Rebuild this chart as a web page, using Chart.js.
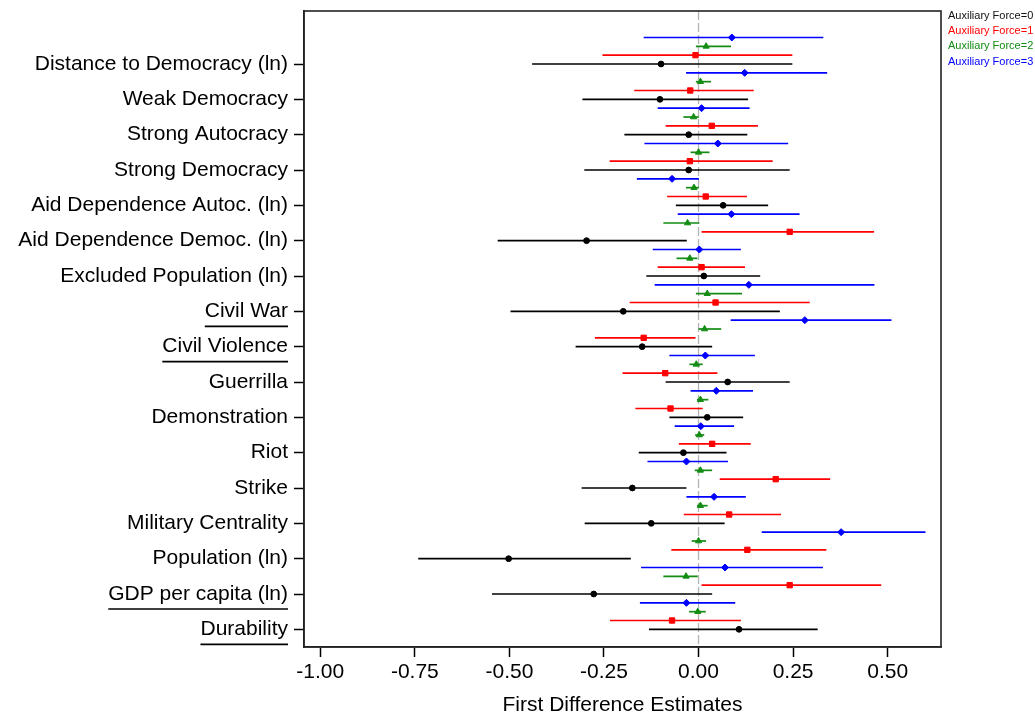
<!DOCTYPE html>
<html>
<head>
<meta charset="utf-8">
<script src="https://cdn.jsdelivr.net/npm/chart.js@4.4.1/dist/chart.umd.min.js"></script>
<style>
  html, body { margin: 0; padding: 0; background: #fff; }
  canvas { display: block; }
</style>
</head>
<body>
<canvas id="coefplot" width="1035" height="718"></canvas>
<script>
// categories, top to bottom
const categories = [
    "Distance to Democracy (ln)", "Weak Democracy", "Strong Autocracy", "Strong Democracy",
    "Aid Dependence Autoc. (ln)", "Aid Dependence Democ. (ln)", "Excluded Population (ln)",
    "Civil War", "Civil Violence", "Guerrilla", "Demonstration", "Riot", "Strike",
    "Military Centrality", "Population (ln)", "GDP per capita (ln)", "Durability"
];
const underlined = ["Civil War", "Civil Violence", "GDP per capita (ln)", "Durability"];

const seriesNames = ["Auxiliary Force=0", "Auxiliary Force=1", "Auxiliary Force=2", "Auxiliary Force=3"];

// Auxiliary Force=0
const est0 = [-0.099, -0.102, -0.026, -0.026, 0.065, -0.296, 0.014, -0.199, -0.149, 0.077, 0.023, -0.040, -0.175, -0.125, -0.502, -0.277, 0.107];
const lo0  = [-0.440, -0.307, -0.196, -0.302, -0.060, -0.531, -0.138, -0.497, -0.325, -0.087, -0.077, -0.158, -0.309, -0.301, -0.741, -0.546, -0.131];
const hi0  = [0.248, 0.131, 0.129, 0.241, 0.184, -0.031, 0.163, 0.215, 0.036, 0.241, 0.118, 0.074, -0.032, 0.069, -0.179, 0.036, 0.315];

// Auxiliary Force=1
const est1 = [-0.008, -0.022, 0.035, -0.023, 0.019, 0.241, 0.008, 0.045, -0.145, -0.088, -0.074, 0.036, 0.204, 0.081, 0.129, 0.241, -0.070];
const lo1  = [-0.254, -0.170, -0.087, -0.235, -0.083, 0.008, -0.108, -0.182, -0.274, -0.201, -0.167, -0.052, 0.056, -0.039, -0.072, 0.008, -0.234];
const hi1  = [0.248, 0.146, 0.157, 0.196, 0.128, 0.464, 0.123, 0.294, -0.008, 0.050, 0.011, 0.138, 0.348, 0.218, 0.338, 0.483, 0.112];

// Auxiliary Force=2
const est2 = [0.020, 0.005, -0.013, 0.000, -0.012, -0.029, -0.023, 0.023, 0.016, -0.006, 0.005, 0.002, 0.005, 0.005, 0.000, -0.033, -0.002];
const lo2  = [-0.007, -0.007, -0.040, -0.021, -0.033, -0.093, -0.058, -0.007, 0.000, -0.024, -0.004, -0.009, -0.010, -0.004, -0.018, -0.093, -0.025];
const hi2  = [0.086, 0.033, 0.001, 0.029, 0.001, 0.002, -0.003, 0.115, 0.060, 0.011, 0.026, 0.015, 0.036, 0.024, 0.020, -0.002, 0.019];

// Auxiliary Force=3
const est3 = [0.088, 0.122, 0.008, 0.051, -0.070, 0.087, 0.002, 0.133, 0.281, 0.018, 0.047, 0.006, -0.032, 0.041, 0.377, 0.070, -0.032];
const lo3  = [-0.145, -0.033, -0.108, -0.143, -0.163, -0.055, -0.121, -0.116, 0.085, -0.077, -0.021, -0.063, -0.135, -0.032, 0.167, -0.152, -0.155];
const hi3  = [0.330, 0.340, 0.135, 0.237, 0.001, 0.267, 0.112, 0.465, 0.510, 0.149, 0.144, 0.094, 0.078, 0.125, 0.600, 0.329, 0.097];

const xTicks = [-1.00, -0.75, -0.50, -0.25, 0.00, 0.25, 0.50];

const colors = ["#000000", "#ff0000", "#128c12", "#0000ff"];
const shapes = ["circle", "rect", "triangle", "rectRot"];
const radii = [2.9, 3.8, 3.6, 3.5];
const offsets = [0, -0.25, -0.5, -0.75];

const estimates = [est0, est1, est2, est3];
const lows = [lo0, lo1, lo2, lo3];
const highs = [hi0, hi1, hi2, hi3];

const FONT = "'Liberation Sans', Arial, Helvetica, sans-serif";

function buildDatasets() {
    const datasets = [];
    // zero reference line
    datasets.push({
        data: [{ x: 0, y: -1.5 }, { x: 0, y: 16.5 }],
        showLine: true,
        borderColor: "#b4b4b4",
        borderWidth: 1.3,
        borderDash: [9, 3],
        pointRadius: 0,
        order: 20
    });
    for (let s = 0; s < 4; s++) {
        // error bars, one small line per category
        categories.forEach((c, i) => {
            const y = i + offsets[s];
            datasets.push({
                data: [{ x: lows[s][i], y: y }, { x: highs[s][i], y: y }],
                showLine: true,
                borderColor: colors[s],
                borderWidth: 1.7,
                pointRadius: 0,
                order: 10
            });
        });
        // point estimates
        datasets.push({
            label: seriesNames[s],
            data: estimates[s].map((v, i) => ({ x: v, y: i + offsets[s] })),
            pointStyle: shapes[s],
            pointRadius: radii[s],
            pointBackgroundColor: colors[s],
            pointBorderColor: colors[s],
            pointBorderWidth: 1,
            order: 0
        });
    }
    return datasets;
}

// box, underlines and the text legend
const extras = {
    id: "extras",
    afterDraw(chart) {
        const ctx = chart.ctx;
        const a = chart.chartArea;
        const yScale = chart.scales.y;
        ctx.save();
        ctx.strokeStyle = "#222";
        ctx.lineWidth = 1.6;
        ctx.strokeRect(a.left, a.top, a.right - a.left, a.bottom - a.top);

        ctx.font = "21px " + FONT;
        ctx.lineWidth = 1.6;
        ctx.strokeStyle = "#000";
        const rightEdge = a.left - 10 - 6;
        categories.forEach((c, i) => {
            if (underlined.indexOf(c) < 0) return;
            const y = yScale.getPixelForValue(i) + 15;
            const w = ctx.measureText(c).width;
            ctx.beginPath();
            ctx.moveTo(rightEdge - w, y);
            ctx.lineTo(rightEdge, y);
            ctx.stroke();
        });

        ctx.font = "11px " + FONT;
        ctx.textAlign = "left";
        ctx.textBaseline = "middle";
        seriesNames.forEach((name, s) => {
            ctx.fillStyle = s === 0 ? "#111" : colors[s];
            ctx.fillText(name, a.right + 7, 16 + s * 15.2);
        });
        ctx.restore();
    }
};

const config = {
    type: "scatter",
    data: { datasets: buildDatasets() },
    options: {
        responsive: false,
        animation: false,
        devicePixelRatio: 1,
        layout: { padding: { top: 11, right: 94, left: 0, bottom: 0 } },
        scales: {
            x: {
                type: "linear",
                min: -1.043,
                max: 0.641,
                afterFit: (scale) => {
                    scale.height = 71;
                    scale.paddingLeft = 0;
                    scale.paddingRight = 0;
                },
                afterBuildTicks: (scale) => { scale.ticks = xTicks.map(v => ({ value: v })); },
                grid: { drawOnChartArea: false, tickLength: 10, tickColor: "#000", tickWidth: 1.5 },
                border: { color: "#222", width: 1.6 },
                ticks: {
                    color: "#000",
                    padding: 3,
                    font: { family: FONT, size: 21 },
                    callback: (v) => Number(v).toFixed(2)
                },
                title: {
                    display: true,
                    text: "First Difference Estimates",
                    color: "#000",
                    font: { family: FONT, size: 21 },
                    padding: { top: 0, bottom: 0 }
                }
            },
            y: {
                type: "linear",
                reverse: true,
                min: -1.5,
                max: 16.5,
                afterFit: (scale) => {
                    scale.width = 304;
                    scale.paddingTop = 0;
                    scale.paddingBottom = 0;
                },
                afterBuildTicks: (scale) => { scale.ticks = categories.map((c, i) => ({ value: i })); },
                grid: { drawOnChartArea: false, tickLength: 10, tickColor: "#000", tickWidth: 1.5 },
                border: { color: "#222", width: 1.6 },
                ticks: {
                    color: "#000",
                    padding: 6,
                    font: { family: FONT, size: 21 },
                    callback: (v) => categories[v]
                }
            }
        },
        plugins: {
            legend: { display: false },
            tooltip: { enabled: false }
        }
    },
    plugins: [extras]
};

new Chart(document.getElementById("coefplot").getContext("2d"), config);
</script>
</body>
</html>
